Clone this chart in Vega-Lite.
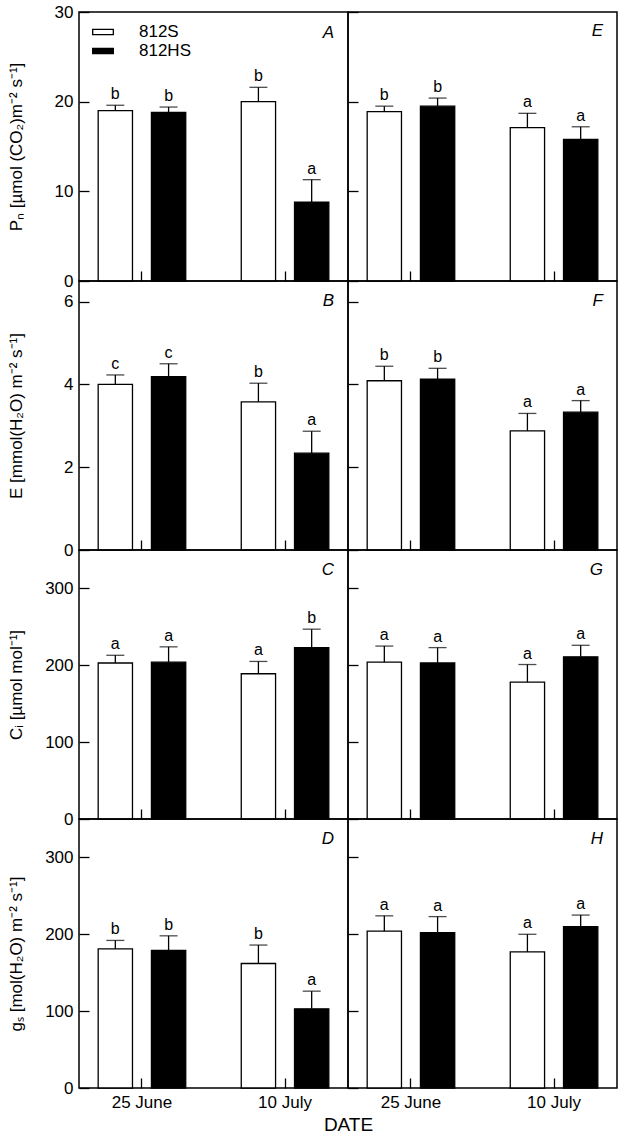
{
  "$schema": "https://vega.github.io/schema/vega-lite/v6.json",
  "padding": {"left": 6, "top": 2, "right": 0, "bottom": 0},
  "background": "white",
  "data": {
    "values": [
      {"panel": "A", "date": "25 June", "line": "812S", "mean": 19.0, "upper": 19.6, "sig": "b"},
      {"panel": "A", "date": "25 June", "line": "812HS", "mean": 18.8, "upper": 19.4, "sig": "b"},
      {"panel": "A", "date": "10 July", "line": "812S", "mean": 20.0, "upper": 21.6, "sig": "b"},
      {"panel": "A", "date": "10 July", "line": "812HS", "mean": 8.8, "upper": 11.3, "sig": "a"},
      {"panel": "E", "date": "25 June", "line": "812S", "mean": 18.9, "upper": 19.5, "sig": "b"},
      {"panel": "E", "date": "25 June", "line": "812HS", "mean": 19.5, "upper": 20.4, "sig": "b"},
      {"panel": "E", "date": "10 July", "line": "812S", "mean": 17.1, "upper": 18.7, "sig": "a"},
      {"panel": "E", "date": "10 July", "line": "812HS", "mean": 15.8, "upper": 17.2, "sig": "a"},
      {"panel": "B", "date": "25 June", "line": "812S", "mean": 4.0, "upper": 4.23, "sig": "c"},
      {"panel": "B", "date": "25 June", "line": "812HS", "mean": 4.19, "upper": 4.5, "sig": "c"},
      {"panel": "B", "date": "10 July", "line": "812S", "mean": 3.58, "upper": 4.03, "sig": "b"},
      {"panel": "B", "date": "10 July", "line": "812HS", "mean": 2.34, "upper": 2.87, "sig": "a"},
      {"panel": "F", "date": "25 June", "line": "812S", "mean": 4.09, "upper": 4.44, "sig": "b"},
      {"panel": "F", "date": "25 June", "line": "812HS", "mean": 4.13, "upper": 4.39, "sig": "b"},
      {"panel": "F", "date": "10 July", "line": "812S", "mean": 2.88, "upper": 3.3, "sig": "a"},
      {"panel": "F", "date": "10 July", "line": "812HS", "mean": 3.33, "upper": 3.61, "sig": "a"},
      {"panel": "C", "date": "25 June", "line": "812S", "mean": 203, "upper": 213, "sig": "a"},
      {"panel": "C", "date": "25 June", "line": "812HS", "mean": 204, "upper": 224, "sig": "a"},
      {"panel": "C", "date": "10 July", "line": "812S", "mean": 189, "upper": 205, "sig": "a"},
      {"panel": "C", "date": "10 July", "line": "812HS", "mean": 223, "upper": 247, "sig": "b"},
      {"panel": "G", "date": "25 June", "line": "812S", "mean": 204, "upper": 225, "sig": "a"},
      {"panel": "G", "date": "25 June", "line": "812HS", "mean": 203, "upper": 223, "sig": "a"},
      {"panel": "G", "date": "10 July", "line": "812S", "mean": 178, "upper": 201, "sig": "a"},
      {"panel": "G", "date": "10 July", "line": "812HS", "mean": 211, "upper": 226, "sig": "a"},
      {"panel": "D", "date": "25 June", "line": "812S", "mean": 181, "upper": 192, "sig": "b"},
      {"panel": "D", "date": "25 June", "line": "812HS", "mean": 179, "upper": 198, "sig": "b"},
      {"panel": "D", "date": "10 July", "line": "812S", "mean": 162, "upper": 186, "sig": "b"},
      {"panel": "D", "date": "10 July", "line": "812HS", "mean": 103, "upper": 126, "sig": "a"},
      {"panel": "H", "date": "25 June", "line": "812S", "mean": 204, "upper": 224, "sig": "a"},
      {"panel": "H", "date": "25 June", "line": "812HS", "mean": 202, "upper": 223, "sig": "a"},
      {"panel": "H", "date": "10 July", "line": "812S", "mean": 177, "upper": 200, "sig": "a"},
      {"panel": "H", "date": "10 July", "line": "812HS", "mean": 210, "upper": 225, "sig": "a"}
    ]
  },
  "columns": 2,
  "spacing": 0,
  "bounds": "flush",
  "resolve": {"scale": {"y": "independent", "fill": "independent"}, "legend": {"fill": "independent"}},
  "concat": [
    {
      "width": 269, "height": 269,
      "title": {"text": "A", "offset": -39},
      "transform": [{"filter": "datum.panel == 'A'"}],
      "encoding": {
        "x": {"field": "date", "type": "nominal", "sort": ["25 June", "10 July"], "scale": {"paddingInner": 0.12, "paddingOuter": 0}, "axis": {"labels": false, "title": null}},
        "xOffset": {"field": "line", "type": "nominal", "sort": ["812S", "812HS"], "scale": {"paddingInner": 0.356, "paddingOuter": 0.36}}
      },
      "layer": [
        {
          "mark": {"type": "bar", "stroke": "black", "strokeWidth": 1.3},
          "encoding": {
            "y": {"field": "mean", "type": "quantitative", "scale": {"domain": [0, 30], "nice": false}, "axis": {"title": "Pₙ [µmol (CO₂)m⁻² s⁻¹]", "values": [0, 10, 20, 30]}},
            "fill": {"field": "line", "type": "nominal", "scale": {"domain": ["812S", "812HS"], "range": ["white", "black"]},
              "legend": {"orient": "none", "legendX": 13, "legendY": 9, "title": null, "padding": 0, "symbolType": "M-1,-0.26H1V0.26H-1Z", "symbolSize": 426, "symbolStrokeColor": "black", "symbolStrokeWidth": 1.3, "labelFontSize": 17, "labelColor": "black", "labelOffset": 25, "rowPadding": -9}}
          }
        },
        {"mark": {"type": "rule", "color": "black", "strokeWidth": 1.3}, "encoding": {"y": {"field": "mean", "type": "quantitative"}, "y2": {"field": "upper"}}},
        {"mark": {"type": "tick", "orient": "horizontal", "size": 18, "thickness": 1.3, "color": "black"}, "encoding": {"y": {"field": "upper", "type": "quantitative"}}},
        {"mark": {"type": "text", "baseline": "alphabetic", "dy": -6, "fontSize": 16, "color": "black"}, "encoding": {"y": {"field": "upper", "type": "quantitative"}, "text": {"field": "sig"}}}
      ]
    },
    {
      "width": 269, "height": 269,
      "title": {"text": "E"},
      "transform": [{"filter": "datum.panel == 'E'"}],
      "encoding": {
        "x": {"field": "date", "type": "nominal", "sort": ["25 June", "10 July"], "scale": {"paddingInner": 0.12, "paddingOuter": 0}, "axis": {"labels": false, "title": null}},
        "xOffset": {"field": "line", "type": "nominal", "sort": ["812S", "812HS"], "scale": {"paddingInner": 0.356, "paddingOuter": 0.36}}
      },
      "layer": [
        {
          "mark": {"type": "bar", "stroke": "black", "strokeWidth": 1.3},
          "encoding": {
            "y": {"field": "mean", "type": "quantitative", "scale": {"domain": [0, 30], "nice": false}, "axis": {"title": null, "labels": false, "values": [0, 10, 20, 30], "minExtent": 0, "maxExtent": 0}},
            "fill": {"field": "line", "type": "nominal", "scale": {"domain": ["812S", "812HS"], "range": ["white", "black"]}, "legend": null}
          }
        },
        {"mark": {"type": "rule", "color": "black", "strokeWidth": 1.3}, "encoding": {"y": {"field": "mean", "type": "quantitative"}, "y2": {"field": "upper"}}},
        {"mark": {"type": "tick", "orient": "horizontal", "size": 18, "thickness": 1.3, "color": "black"}, "encoding": {"y": {"field": "upper", "type": "quantitative"}}},
        {"mark": {"type": "text", "baseline": "alphabetic", "dy": -6, "fontSize": 16, "color": "black"}, "encoding": {"y": {"field": "upper", "type": "quantitative"}, "text": {"field": "sig"}}}
      ]
    },
    {
      "width": 269, "height": 269,
      "title": {"text": "B"},
      "transform": [{"filter": "datum.panel == 'B'"}],
      "encoding": {
        "x": {"field": "date", "type": "nominal", "sort": ["25 June", "10 July"], "scale": {"paddingInner": 0.12, "paddingOuter": 0}, "axis": {"labels": false, "title": null}},
        "xOffset": {"field": "line", "type": "nominal", "sort": ["812S", "812HS"], "scale": {"paddingInner": 0.356, "paddingOuter": 0.36}}
      },
      "layer": [
        {
          "mark": {"type": "bar", "stroke": "black", "strokeWidth": 1.3},
          "encoding": {
            "y": {"field": "mean", "type": "quantitative", "scale": {"domain": [0, 6.5], "nice": false}, "axis": {"title": "E [mmol(H₂O) m⁻² s⁻¹]", "values": [0, 2, 4, 6]}},
            "fill": {"field": "line", "type": "nominal", "scale": {"domain": ["812S", "812HS"], "range": ["white", "black"]}, "legend": null}
          }
        },
        {"mark": {"type": "rule", "color": "black", "strokeWidth": 1.3}, "encoding": {"y": {"field": "mean", "type": "quantitative"}, "y2": {"field": "upper"}}},
        {"mark": {"type": "tick", "orient": "horizontal", "size": 18, "thickness": 1.3, "color": "black"}, "encoding": {"y": {"field": "upper", "type": "quantitative"}}},
        {"mark": {"type": "text", "baseline": "alphabetic", "dy": -6, "fontSize": 16, "color": "black"}, "encoding": {"y": {"field": "upper", "type": "quantitative"}, "text": {"field": "sig"}}}
      ]
    },
    {
      "width": 269, "height": 269,
      "title": {"text": "F"},
      "transform": [{"filter": "datum.panel == 'F'"}],
      "encoding": {
        "x": {"field": "date", "type": "nominal", "sort": ["25 June", "10 July"], "scale": {"paddingInner": 0.12, "paddingOuter": 0}, "axis": {"labels": false, "title": null}},
        "xOffset": {"field": "line", "type": "nominal", "sort": ["812S", "812HS"], "scale": {"paddingInner": 0.356, "paddingOuter": 0.36}}
      },
      "layer": [
        {
          "mark": {"type": "bar", "stroke": "black", "strokeWidth": 1.3},
          "encoding": {
            "y": {"field": "mean", "type": "quantitative", "scale": {"domain": [0, 6.5], "nice": false}, "axis": {"title": null, "labels": false, "values": [0, 2, 4, 6], "minExtent": 0, "maxExtent": 0}},
            "fill": {"field": "line", "type": "nominal", "scale": {"domain": ["812S", "812HS"], "range": ["white", "black"]}, "legend": null}
          }
        },
        {"mark": {"type": "rule", "color": "black", "strokeWidth": 1.3}, "encoding": {"y": {"field": "mean", "type": "quantitative"}, "y2": {"field": "upper"}}},
        {"mark": {"type": "tick", "orient": "horizontal", "size": 18, "thickness": 1.3, "color": "black"}, "encoding": {"y": {"field": "upper", "type": "quantitative"}}},
        {"mark": {"type": "text", "baseline": "alphabetic", "dy": -6, "fontSize": 16, "color": "black"}, "encoding": {"y": {"field": "upper", "type": "quantitative"}, "text": {"field": "sig"}}}
      ]
    },
    {
      "width": 269, "height": 269,
      "title": {"text": "C"},
      "transform": [{"filter": "datum.panel == 'C'"}],
      "encoding": {
        "x": {"field": "date", "type": "nominal", "sort": ["25 June", "10 July"], "scale": {"paddingInner": 0.12, "paddingOuter": 0}, "axis": {"labels": false, "title": null}},
        "xOffset": {"field": "line", "type": "nominal", "sort": ["812S", "812HS"], "scale": {"paddingInner": 0.356, "paddingOuter": 0.36}}
      },
      "layer": [
        {
          "mark": {"type": "bar", "stroke": "black", "strokeWidth": 1.3},
          "encoding": {
            "y": {"field": "mean", "type": "quantitative", "scale": {"domain": [0, 350], "nice": false}, "axis": {"title": "Cᵢ [µmol mol⁻¹]", "values": [0, 100, 200, 300]}},
            "fill": {"field": "line", "type": "nominal", "scale": {"domain": ["812S", "812HS"], "range": ["white", "black"]}, "legend": null}
          }
        },
        {"mark": {"type": "rule", "color": "black", "strokeWidth": 1.3}, "encoding": {"y": {"field": "mean", "type": "quantitative"}, "y2": {"field": "upper"}}},
        {"mark": {"type": "tick", "orient": "horizontal", "size": 18, "thickness": 1.3, "color": "black"}, "encoding": {"y": {"field": "upper", "type": "quantitative"}}},
        {"mark": {"type": "text", "baseline": "alphabetic", "dy": -6, "fontSize": 16, "color": "black"}, "encoding": {"y": {"field": "upper", "type": "quantitative"}, "text": {"field": "sig"}}}
      ]
    },
    {
      "width": 269, "height": 269,
      "title": {"text": "G"},
      "transform": [{"filter": "datum.panel == 'G'"}],
      "encoding": {
        "x": {"field": "date", "type": "nominal", "sort": ["25 June", "10 July"], "scale": {"paddingInner": 0.12, "paddingOuter": 0}, "axis": {"labels": false, "title": null}},
        "xOffset": {"field": "line", "type": "nominal", "sort": ["812S", "812HS"], "scale": {"paddingInner": 0.356, "paddingOuter": 0.36}}
      },
      "layer": [
        {
          "mark": {"type": "bar", "stroke": "black", "strokeWidth": 1.3},
          "encoding": {
            "y": {"field": "mean", "type": "quantitative", "scale": {"domain": [0, 350], "nice": false}, "axis": {"title": null, "labels": false, "values": [0, 100, 200, 300], "minExtent": 0, "maxExtent": 0}},
            "fill": {"field": "line", "type": "nominal", "scale": {"domain": ["812S", "812HS"], "range": ["white", "black"]}, "legend": null}
          }
        },
        {"mark": {"type": "rule", "color": "black", "strokeWidth": 1.3}, "encoding": {"y": {"field": "mean", "type": "quantitative"}, "y2": {"field": "upper"}}},
        {"mark": {"type": "tick", "orient": "horizontal", "size": 18, "thickness": 1.3, "color": "black"}, "encoding": {"y": {"field": "upper", "type": "quantitative"}}},
        {"mark": {"type": "text", "baseline": "alphabetic", "dy": -6, "fontSize": 16, "color": "black"}, "encoding": {"y": {"field": "upper", "type": "quantitative"}, "text": {"field": "sig"}}}
      ]
    },
    {
      "width": 269, "height": 269,
      "title": {"text": "D"},
      "transform": [{"filter": "datum.panel == 'D'"}],
      "encoding": {
        "x": {"field": "date", "type": "nominal", "sort": ["25 June", "10 July"], "scale": {"paddingInner": 0.12, "paddingOuter": 0}, "axis": {"labelAngle": 0, "title": "DATE", "titleX": 269, "titleAlign": "center", "titleFontSize": 19, "titlePadding": 5}},
        "xOffset": {"field": "line", "type": "nominal", "sort": ["812S", "812HS"], "scale": {"paddingInner": 0.356, "paddingOuter": 0.36}}
      },
      "layer": [
        {
          "mark": {"type": "bar", "stroke": "black", "strokeWidth": 1.3},
          "encoding": {
            "y": {"field": "mean", "type": "quantitative", "scale": {"domain": [0, 350], "nice": false}, "axis": {"title": "gₛ [mol(H₂O) m⁻² s⁻¹]", "values": [0, 100, 200, 300]}},
            "fill": {"field": "line", "type": "nominal", "scale": {"domain": ["812S", "812HS"], "range": ["white", "black"]}, "legend": null}
          }
        },
        {"mark": {"type": "rule", "color": "black", "strokeWidth": 1.3}, "encoding": {"y": {"field": "mean", "type": "quantitative"}, "y2": {"field": "upper"}}},
        {"mark": {"type": "tick", "orient": "horizontal", "size": 18, "thickness": 1.3, "color": "black"}, "encoding": {"y": {"field": "upper", "type": "quantitative"}}},
        {"mark": {"type": "text", "baseline": "alphabetic", "dy": -6, "fontSize": 16, "color": "black"}, "encoding": {"y": {"field": "upper", "type": "quantitative"}, "text": {"field": "sig"}}}
      ]
    },
    {
      "width": 269, "height": 269,
      "title": {"text": "H"},
      "transform": [{"filter": "datum.panel == 'H'"}],
      "encoding": {
        "x": {"field": "date", "type": "nominal", "sort": ["25 June", "10 July"], "scale": {"paddingInner": 0.12, "paddingOuter": 0}, "axis": {"labelAngle": 0, "title": null}},
        "xOffset": {"field": "line", "type": "nominal", "sort": ["812S", "812HS"], "scale": {"paddingInner": 0.356, "paddingOuter": 0.36}}
      },
      "layer": [
        {
          "mark": {"type": "bar", "stroke": "black", "strokeWidth": 1.3},
          "encoding": {
            "y": {"field": "mean", "type": "quantitative", "scale": {"domain": [0, 350], "nice": false}, "axis": {"title": null, "labels": false, "values": [0, 100, 200, 300], "minExtent": 0, "maxExtent": 0}},
            "fill": {"field": "line", "type": "nominal", "scale": {"domain": ["812S", "812HS"], "range": ["white", "black"]}, "legend": null}
          }
        },
        {"mark": {"type": "rule", "color": "black", "strokeWidth": 1.3}, "encoding": {"y": {"field": "mean", "type": "quantitative"}, "y2": {"field": "upper"}}},
        {"mark": {"type": "tick", "orient": "horizontal", "size": 18, "thickness": 1.3, "color": "black"}, "encoding": {"y": {"field": "upper", "type": "quantitative"}}},
        {"mark": {"type": "text", "baseline": "alphabetic", "dy": -6, "fontSize": 16, "color": "black"}, "encoding": {"y": {"field": "upper", "type": "quantitative"}, "text": {"field": "sig"}}}
      ]
    }
  ],
  "config": {
    "font": "Liberation Sans",
    "view": {"stroke": "black", "strokeWidth": 1.5},
    "axis": {
      "domain": false, "grid": false, "tickSize": -10, "tickColor": "black", "tickWidth": 1.3,
      "labelFontSize": 17, "labelColor": "black", "labelFlush": false, "labelOverlap": false, "labelPadding": 16,
      "titleFontSize": 17, "titleFontWeight": "normal", "titleColor": "black"
    },
    "axisY": {"minExtent": 40, "maxExtent": 40, "titlePadding": 14},
    "title": {"anchor": "end", "frame": "group", "fontStyle": "italic", "fontWeight": "normal", "fontSize": 17, "color": "black", "baseline": "alphabetic", "offset": -29, "dx": -14}
  }
}
